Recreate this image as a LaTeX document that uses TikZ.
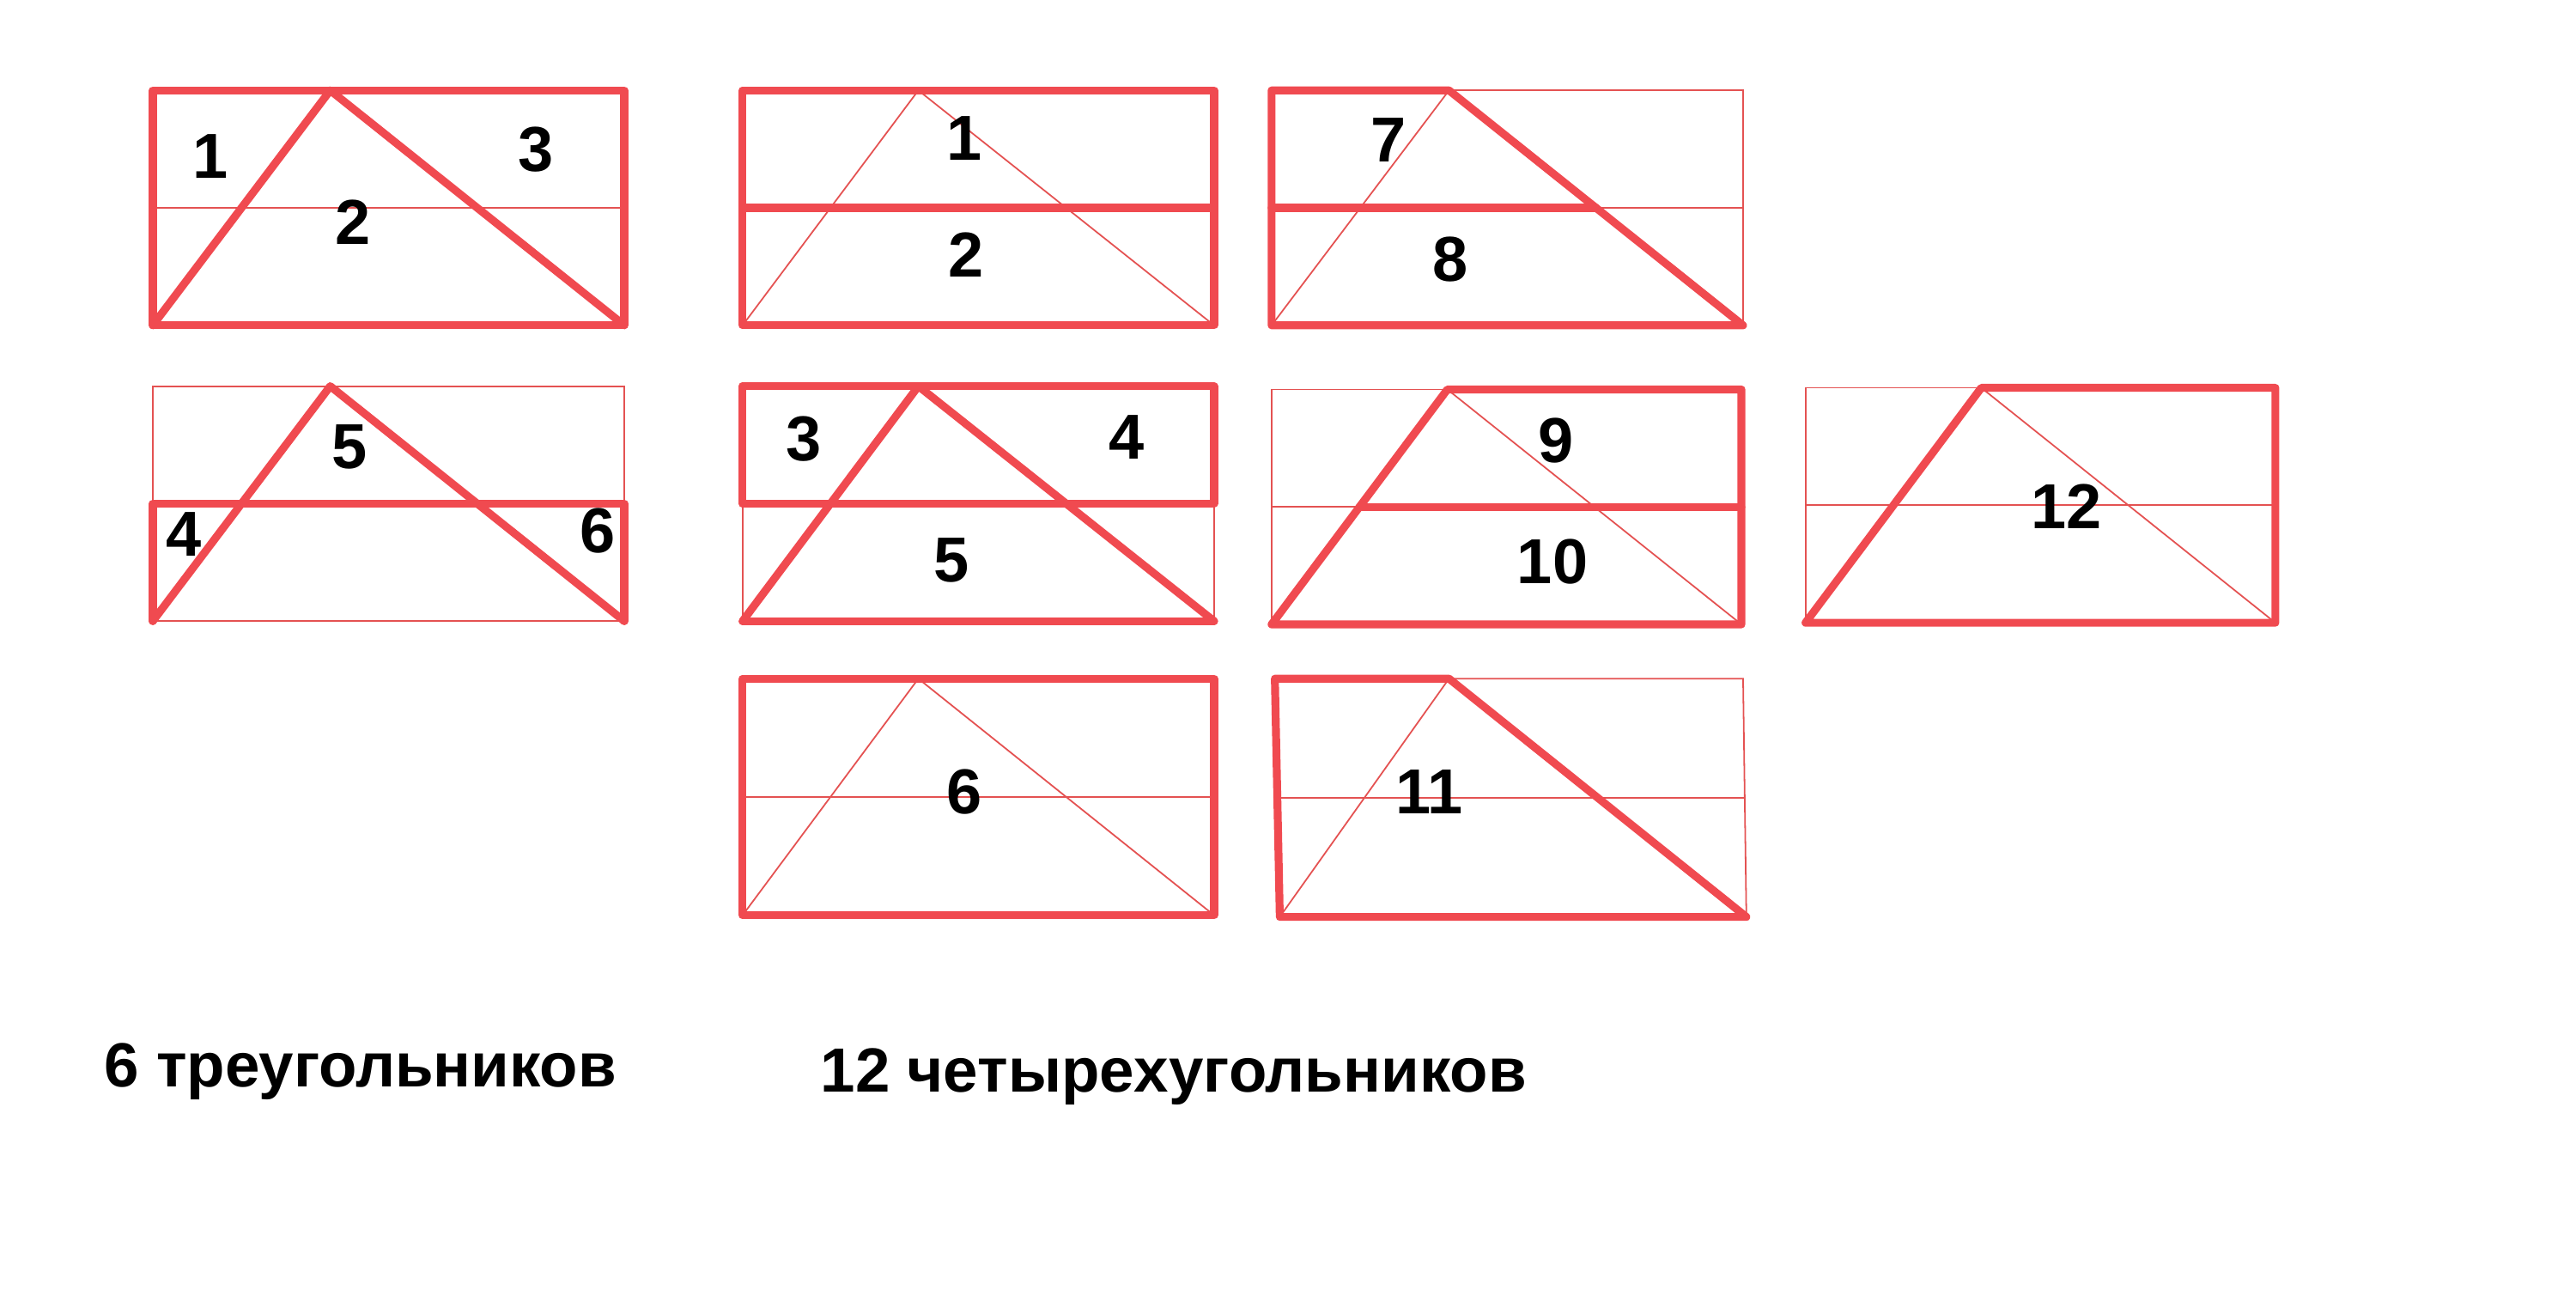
\documentclass[tikz,border=0pt]{standalone}
\usepackage{fontspec}
\setmainfont{Liberation Sans}
\definecolor{figred}{RGB}{240,74,80}
\definecolor{gridred}{RGB}{228,82,82}
\tikzset{every picture/.style={line width=0.75pt}}
\tikzset{
  hl/.style={draw=figred, line width=3.6pt, line cap=round, line join=round},
  aux/.style={draw=gridred, line width=0.7pt},
  num/.style={inner sep=0.75pt, font=\fontsize{29}{32}\selectfont\bfseries},
  caption/.style={inner sep=0.75pt, anchor=west, font=\fontsize{28.5}{32}\selectfont\bfseries}
}

\begin{document}
\begin{tikzpicture}[x=0.75pt,y=0.75pt,yscale=-1,xscale=1]
        \useasboundingbox (0,0) rectangle (1568,792);

        %Triangles: whole figure
        \draw [aux] (93,126.5) -- (380,126.5) ;
        \draw [hl] (93,55) rectangle (380,198) ;
        \draw [hl] (93,198) -- (201,55) -- (380,198) ;
        %Triangles: lower strip
        \draw [aux] (93,235) rectangle (380,378) ;
        \draw [hl] (93,378) -- (93,306.5) -- (380,306.5) -- (380,378) ;
        \draw [hl] (93,378) -- (201,235) -- (380,378) ;

        %Quadrilaterals 1, 2
        \draw [aux] (452,198) -- (559,55) -- (739,198) ;
        \draw [hl] (452,55) rectangle (739,198) ;
        \draw [hl] (452,126.5) -- (739,126.5) ;
        %Quadrilaterals 7, 8
        \draw [aux] (774,55) rectangle (1061,198) ;
        \draw [aux] (774,126.5) -- (1061,126.5) ;
        \draw [aux] (774,198) -- (882,55) ;
        \draw [hl] (774,55) -- (882,55) -- (1061,198) -- (774,198) -- cycle ;
        \draw [hl] (774,126.5) -- (971.5,126.5) ;

        %Quadrilaterals 3, 4, 5
        \draw [aux] (452,235) rectangle (739,378) ;
        \draw [hl] (452,235) rectangle (739,306.5) ;
        \draw [hl] (452,378) -- (739,378) ;
        \draw [hl] (452,378) -- (559,235) -- (739,378) ;
        %Quadrilaterals 9, 10
        \draw [aux] (774,237) rectangle (1060,380) ;
        \draw [aux] (774,308.5) -- (1060,308.5) ;
        \draw [aux] (881,237) -- (1060,380) ;
        \draw [hl] (774,380) -- (881,237) -- (1060,237) -- (1060,380) -- cycle ;
        \draw [hl] (827.5,308.5) -- (1060,308.5) ;
        %Quadrilateral 12
        \draw [aux] (1099,236) rectangle (1385,379) ;
        \draw [aux] (1099,307.5) -- (1385,307.5) ;
        \draw [aux] (1206,236) -- (1385,379) ;
        \draw [hl] (1099,379) -- (1206,236) -- (1385,236) -- (1385,379) -- cycle ;

        %Quadrilateral 6
        \draw [aux] (452,485) -- (739,485) ;
        \draw [aux] (452,557) -- (559,413) -- (739,557) ;
        \draw [hl] (452,413) rectangle (739,557) ;
        %Quadrilateral 11
        \draw [aux] (882,413) -- (1061,413) -- (1063,558) ;
        \draw [aux] (777.5,485.5) -- (1062,485.5) ;
        \draw [aux] (779,558) -- (882,413) ;
        \draw [hl] (776,413) -- (882,413) -- (1063,558) -- (779,558) -- cycle ;

        % Text Node
        \draw (128,95) node [num] (triA1) {1};
        \draw (215,135) node [num] (triA2) {2};
        \draw (326,91) node [num] (triA3) {3};
        \draw (112,325) node [num] (triB4) {4};
        \draw (213,272) node [num] (triB5) {5};
        \draw (364,323) node [num] (triB6) {6};
        % Text Node
        \draw (587,84) node [num] (quad1) {1};
        \draw (588,155) node [num] (quad2) {2};
        \draw (845,85) node [num] (quad7) {7};
        \draw (883,158) node [num] (quad8) {8};
        \draw (489,267) node [num] (quad3) {3};
        \draw (686,266) node [num] (quad4) {4};
        \draw (579,341) node [num] (quad5) {5};
        \draw (947,268) node [num] (quad9) {9};
        \draw (945,342) node [num] (quad10) {10};
        \draw (1258,308) node [num] (quad12) {12};
        \draw (587,482) node [num] (quad6) {6};
        \draw (870,482) node [num] (quad11) {11};
        % Text Node
        \draw (62,652) node [caption] (triTotal) {6 треугольников};
        \draw (498,655) node [caption] (quadTotal) {12 четырехугольников};

\end{tikzpicture}
\end{document}
